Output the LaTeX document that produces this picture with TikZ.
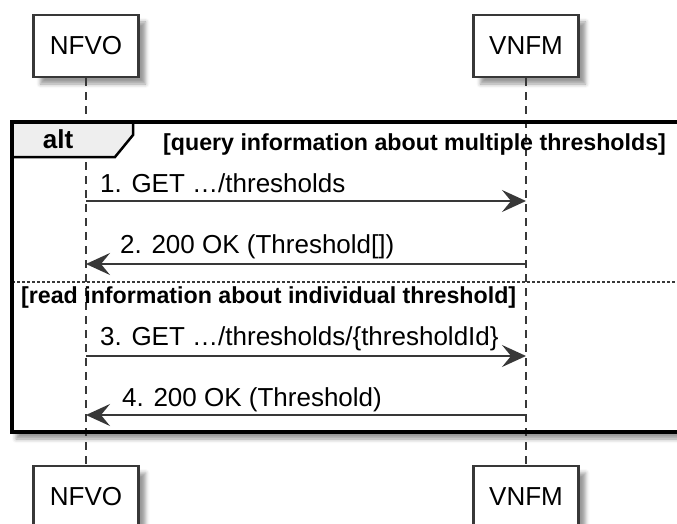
\documentclass[tikz,border=0pt]{standalone}
\usepackage{fontspec}
\setmainfont{Liberation Sans}
\usetikzlibrary{arrows.meta, shadows.blur}
\definecolor{linegray}{HTML}{383838}
\definecolor{tabgray}{HTML}{EEEEEE}
\tikzset{
    actor/.style={
      draw=linegray, line width=2.5pt, fill=white,
      minimum width=105pt, minimum height=62pt, inner sep=0pt,
      font=\fontsize{26}{30}\selectfont,
      blur shadow={shadow xshift=7pt, shadow yshift=-7pt, shadow blur radius=4pt},
    },
    lifeline/.style={draw=linegray, line width=1.5pt, dash pattern=on 8pt off 6pt},
    msg/.style={
      -{Stealth[length=24pt, width=22pt, inset=9pt]}, %arrow head
      draw=linegray, fill=linegray, line width=1.5pt,
    },
    msglabel/.style={anchor=base west, inner sep=0pt, font=\fontsize{26}{30}\selectfont},
    guard/.style={anchor=base west, inner sep=0pt, font=\fontsize{23.2}{28}\selectfont\bfseries},
    frame/.style={draw=black, line width=3.5pt},
    tab/.style={draw=black, line width=2.5pt, fill=tabgray},
    separator/.style={draw=linegray, line width=1.2pt, dash pattern=on 3pt off 2pt},
}

\begin{document}
\begin{tikzpicture}[x=1pt, y=-1pt]
    \useasboundingbox (0,0) rectangle (677,524);
    \clip (0,0) rectangle (677,524);

    % alt frame background
    \path[fill=white, blur shadow={shadow xshift=4pt, shadow yshift=-7pt, shadow blur radius=4pt}]
      (12,122) rectangle (700,432);

    % participants
    \node[actor] (nfvo) at (86,46) {NFVO};
    \node[actor] (vnfm) at (526,46) {VNFM};
    \node[actor] (nfvo2) at (86,497) {NFVO};
    \node[actor] (vnfm2) at (526,497) {VNFM};

    % lifelines
    \draw[lifeline] (nfvo.south) -- (nfvo2.north);
    \draw[lifeline] (vnfm.south) -- (vnfm2.north);

    % alt tab and guards
    \draw[tab] (12,122) -- (133,122) -- (133,135) -- (115,157) -- (12,157) -- cycle;
    \node[anchor=base, inner sep=0pt, font=\fontsize{26}{30}\selectfont\bfseries] (alt) at (58,149) {alt};
    \node[guard] (g1) at (163,150) {[query information about multiple thresholds]};
    \draw[separator] (12,282) -- (700,282);
    \node[guard] (g2) at (21,303) {[read information about individual threshold]};

    % messages
    \coordinate (n1) at (nfvo.south |- 0,201);
    \coordinate (v1) at (vnfm.south |- 0,201);
    \coordinate (n2) at (nfvo.south |- 0,264);
    \coordinate (v2) at (vnfm.south |- 0,264);
    \coordinate (n3) at (nfvo.south |- 0,356);
    \coordinate (v3) at (vnfm.south |- 0,356);
    \coordinate (n4) at (nfvo.south |- 0,415);
    \coordinate (v4) at (vnfm.south |- 0,415);

    \draw[msg] (n1) -- (v1);
    \node[msglabel] (l1) at (100,192) {1. GET …/thresholds};
    \draw[msg] (v2) -- (n2);
    \node[msglabel] (l2) at (120,253) {2. 200 OK (Threshold[])};
    \draw[msg] (n3) -- (v3);
    \node[msglabel] (l3) at (100,345) {3. GET …/thresholds/\{thresholdId\}};
    \draw[msg] (v4) -- (n4);
    \node[msglabel] (l4) at (122,406) {4. 200 OK (Threshold)};

    % alt frame border
    \draw[frame] (12,122) rectangle (700,432);
\end{tikzpicture}
\end{document}
